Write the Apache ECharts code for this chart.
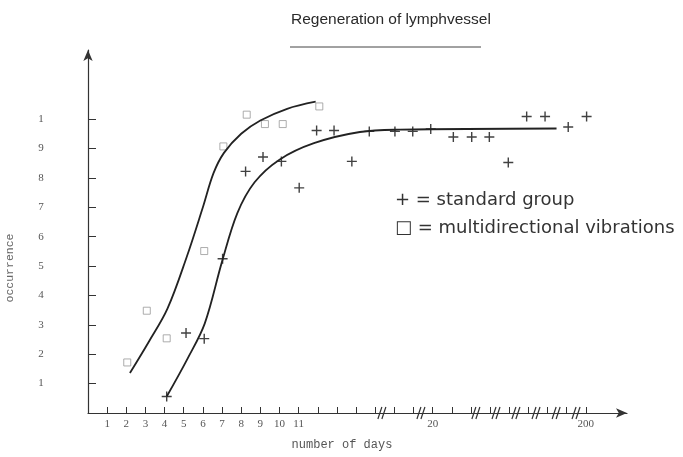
<!DOCTYPE html>
<html>
<head>
<meta charset="utf-8">
<title>Regeneration of lymphvessel</title>
<script src="https://cdn.jsdelivr.net/npm/echarts@6/dist/echarts.min.js"></script>
<style>
  html, body { margin: 0; padding: 0; background: #fff; }
  #chart { width: 683px; height: 457px; }
</style>
</head>
<body>
<div id="chart"></div>
<script>
// x is measured in tick steps along the broken axis (1..11, then 20 and 200 further right)
const xTickValues = [1, 2, 3, 4, 5, 6, 7, 8, 9, 10, 11, 12, 13, 14, 15, 16, 17, 18, 19, 20, 21, 22, 23, 24, 25, 26]
const xLabelValues = [1, 2, 3, 4, 5, 6, 7, 8, 9, 10, 11, 18, 26]
const xLabelTexts = ['1', '2', '3', '4', '5', '6', '7', '8', '9', '10', '11', '20', '200']
const axisBreaks = [15.4, 17.44, 20.31, 21.36, 22.4, 23.45, 24.5, 25.54]

const yTickValues = [1, 2, 3, 4, 5, 6, 7, 8, 9, 10]
const yLabelTexts = ['1', '2', '3', '4', '5', '6', '7', '8', '9', '1']

// standard group (+)
const standardX = [4.11, 5.12, 6.07, 7.03, 8.23, 9.14, 10.1, 11.03, 11.94, 12.85, 13.78, 14.69, 16.03, 16.96, 17.9, 19.08, 20.04, 20.96, 21.95, 22.91, 23.87, 25.08, 26.04]
const standardY = [0.56, 2.72, 2.53, 5.25, 8.22, 8.71, 8.56, 7.66, 9.61, 9.61, 8.56, 9.58, 9.58, 9.58, 9.66, 9.39, 9.39, 9.39, 8.52, 10.09, 10.09, 9.73, 10.09]
// multidirectional vibrations (squares)
const vibrationX = [2.05, 3.07, 4.11, 6.07, 7.07, 8.29, 9.24, 10.17, 12.08]
const vibrationY = [1.72, 3.48, 2.54, 5.51, 9.07, 10.15, 9.83, 9.83, 10.43]

// hand drawn curves
const standardCurveX = [4.11, 5.2, 6.1, 7.0, 7.8, 8.7, 10.0, 11.8, 14.2, 16.3, 24.47]
const standardCurveY = [0.56, 1.85, 3.05, 5.15, 6.8, 7.85, 8.62, 9.18, 9.56, 9.64, 9.68]
const vibrationCurveX = [2.19, 3.2, 4.15, 5.15, 6.0, 6.55, 7.1, 8.0, 9.0, 10.4, 11.89]
const vibrationCurveY = [1.36, 2.45, 3.55, 5.3, 7.0, 8.15, 8.85, 9.5, 9.95, 10.35, 10.59]

const legendTexts = ['+ = standard group', '\u25A1 = multidirectional vibrations']

const zip = (xs, ys) => xs.map((x, i) => [x, ys[i]])

const plusPath = 'path://M4.3,0h1.4v4.3h4.3v1.4h-4.3v4.3h-1.4v-4.3h-4.3v-1.4h4.3z'
const axisColor = '#333'
const labelStyle = { color: '#555', fontFamily: 'Liberation Serif', fontSize: 11 }

const myChart = echarts.init(document.getElementById('chart'))
const option = {
  backgroundColor: '#fff',
  animation: false,
  title: {
    text: 'Regeneration of lymphvessel',
    left: 286,
    top: 7,
    textStyle: { fontFamily: 'Liberation Sans', fontSize: 15.5, fontWeight: 'normal', color: '#2a2a2a' }
  },
  grid: { left: 88, top: 50, right: 56, bottom: 44 },
  xAxis: {
    type: 'value',
    min: 0,
    max: 28.15,
    interval: 1,
    splitLine: { show: false },
    axisLine: { show: true, symbol: ['none', 'arrow'], symbolSize: [7, 11], lineStyle: { color: axisColor, width: 1.2 } },
    axisTick: { show: true, inside: true, length: 6, customValues: xTickValues, lineStyle: { color: axisColor } },
    axisLabel: {
      ...labelStyle,
      margin: 6,
      customValues: xLabelValues,
      formatter: v => xLabelTexts[xLabelValues.indexOf(v)]
    }
  },
  yAxis: {
    type: 'value',
    min: 0,
    max: 12.35,
    interval: 1,
    splitLine: { show: false },
    axisLine: { show: true, symbol: ['none', 'arrow'], symbolSize: [7, 11], lineStyle: { color: axisColor, width: 1.2 } },
    axisTick: { show: true, inside: true, length: 8, customValues: yTickValues, lineStyle: { color: axisColor } },
    axisLabel: {
      ...labelStyle,
      margin: 47,
      align: 'center',
      customValues: yTickValues,
      formatter: v => yLabelTexts[yTickValues.indexOf(v)]
    }
  },
  graphic: [
    { type: 'line', shape: { x1: 290, y1: 47, x2: 481, y2: 47 }, style: { stroke: '#444', lineWidth: 1 } },
    { type: 'text', left: 395, top: 191, style: { text: legendTexts[0], font: '18px "DejaVu Sans"', fill: '#333' } },
    { type: 'text', left: 395, top: 219, style: { text: legendTexts[1], font: '18px "DejaVu Sans"', fill: '#333' } },
    { type: 'text', x: 342, y: 445, style: { text: 'number of days', font: '12px "Liberation Mono"', fill: '#555', align: 'center', verticalAlign: 'middle' } },
    { type: 'text', x: 10, y: 268, rotation: Math.PI / 2, style: { text: 'occurrence', font: '11.5px "Liberation Mono"', fill: '#666', align: 'center', verticalAlign: 'middle' } }
  ],
  series: [
    {
      name: 'standard curve',
      type: 'line',
      data: zip(standardCurveX, standardCurveY),
      smooth: 0.35,
      showSymbol: false,
      lineStyle: { color: '#222', width: 1.8 },
      silent: true
    },
    {
      name: 'vibration curve',
      type: 'line',
      data: zip(vibrationCurveX, vibrationCurveY),
      smooth: 0.35,
      showSymbol: false,
      lineStyle: { color: '#222', width: 1.8 },
      silent: true
    },
    {
      name: 'standard group',
      type: 'scatter',
      data: zip(standardX, standardY),
      symbol: plusPath,
      symbolSize: 10,
      itemStyle: { color: '#111' }
    },
    {
      name: 'multidirectional vibrations',
      type: 'scatter',
      data: zip(vibrationX, vibrationY),
      symbol: 'rect',
      symbolSize: 7,
      itemStyle: { color: 'rgba(255,255,255,0)', borderColor: '#999', borderWidth: 1 }
    },
    {
      // "//" marks where the day axis is broken
      name: 'axis breaks',
      type: 'custom',
      silent: true,
      clip: false,
      data: axisBreaks.map(b => [b, 0]),
      renderItem: (params, api) => {
        const p = api.coord([api.value(0), 0])
        const s = { stroke: '#333', lineWidth: 1.2 }
        return {
          type: 'group',
          children: [
            { type: 'line', shape: { x1: p[0] - 5, y1: p[1] + 6, x2: p[0] - 1, y2: p[1] - 6 }, style: s },
            { type: 'line', shape: { x1: p[0] - 1, y1: p[1] + 6, x2: p[0] + 3, y2: p[1] - 6 }, style: s }
          ]
        }
      }
    }
  ]
}
option && myChart.setOption(option)
window.addEventListener('resize', () => { myChart.resize() })
</script>
</body>
</html>
